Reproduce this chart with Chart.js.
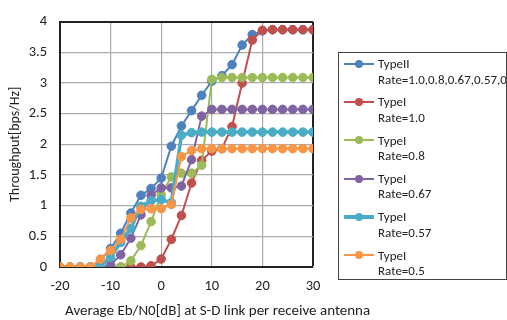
<!DOCTYPE html>
<html lang="en">
<head>
  <meta charset="UTF-8" />
  <title>Throughput vs Eb/N0</title>
  <script src="https://cdn.jsdelivr.net/npm/chart.js"></script>
  <style>
    body {
      margin: 0;
      background: #fff;
      font-family: Carlito, Lato, sans-serif;
      color: #222;
    }
    .wrap {
      position: relative;
      width: 507px;
      height: 320px;
      overflow: hidden;
    }
    #chart {
      position: absolute;
      left: 0;
      top: 0;
    }
    .xtitle {
      position: absolute;
      left: 65px;
      top: 301px;
      font-size: 15px;
      white-space: nowrap;
    }
    .legend {
      position: absolute;
      left: 338px;
      top: 52px;
      width: 169px;
      height: 228px;
      border: 1px solid #444;
      box-sizing: border-box;
      overflow: hidden;
    }
    .item {
      position: absolute;
      left: 0;
      font-size: 13px;
      line-height: 15.6px;
      white-space: nowrap;
    }
    .item .txt {
      position: absolute;
      left: 39px;
      top: 0;
    }
    .item .ln {
      position: absolute;
      left: 5px;
      width: 30px;
    }
    .item .dot {
      position: absolute;
      left: 16px;
      width: 8px;
      height: 8px;
      border-radius: 50%;
    }
  </style>
</head>
<body>
  <div class="wrap">
    <canvas id="chart" width="507" height="320"></canvas>
    <div class="xtitle">Average Eb/N0[dB] at S-D link per receive antenna</div>
    <div class="legend" id="legend"></div>
  </div>

  <script>
    // Eb/N0 in dB, one point every 2 dB
    const snr = [-20, -18, -16, -14, -12, -10, -8, -6, -4, -2, 0, 2, 4, 6, 8, 10, 12, 14, 16, 18, 20, 22, 24, 26, 28, 30];

    const typeII   = [0, 0, 0, 0, 0.12, 0.3, 0.55, 0.88, 1.17, 1.28, 1.45, 1.97, 2.3, 2.55, 2.8, 3.03, 3.12, 3.3, 3.62, 3.79, 3.85, 3.87, 3.87, 3.87, 3.87, 3.87];
    const typeI_10 = [0, 0, 0, 0, 0, 0, 0, 0, 0, 0.02, 0.13, 0.45, 0.84, 1.37, 1.74, 1.89, 1.93, 2.29, 3.0, 3.7, 3.86, 3.87, 3.87, 3.87, 3.87, 3.87];
    const typeI_08 = [0, 0, 0, 0, 0, 0, 0, 0.1, 0.35, 0.74, 1.18, 1.47, 1.53, 1.53, 1.66, 3.06, 3.09, 3.09, 3.09, 3.09, 3.09, 3.09, 3.09, 3.09, 3.09, 3.09];
    const typeI_067 = [0, 0, 0, 0, 0, 0.03, 0.2, 0.47, 0.85, 1.17, 1.29, 1.29, 1.32, 1.75, 2.46, 2.57, 2.57, 2.57, 2.57, 2.57, 2.57, 2.57, 2.57, 2.57, 2.57, 2.57];
    const typeI_057 = [0, 0, 0, 0, 0.01, 0.16, 0.4, 0.63, 0.99, 1.08, 1.1, 1.05, 2.15, 2.19, 2.2, 2.2, 2.2, 2.2, 2.2, 2.2, 2.2, 2.2, 2.2, 2.2, 2.2, 2.2];
    const typeI_05 = [0, 0, 0, 0, 0.13, 0.27, 0.45, 0.8, 0.94, 0.95, 0.95, 1.02, 1.8, 1.9, 1.93, 1.93, 1.93, 1.93, 1.93, 1.93, 1.93, 1.93, 1.93, 1.93, 1.93, 1.93];

    const seriesNames = ["TypeII", "TypeI", "TypeI", "TypeI", "TypeI", "TypeI"];
    const seriesRates = ["Rate=1.0,0.8,0.67,0.57,0.5", "Rate=1.0", "Rate=0.8", "Rate=0.67", "Rate=0.57", "Rate=0.5"];
    const seriesValues = [typeII, typeI_10, typeI_08, typeI_067, typeI_057, typeI_05];
    const seriesColors = ["#4F81BD", "#C0504D", "#9BBB59", "#8064A2", "#4BACC6", "#F79646"];
    const seriesWidths = [2, 2, 2, 2, 3.5, 2];

    const yTicks = [0, 0.5, 1, 1.5, 2, 2.5, 3, 3.5, 4];

    const datasets = seriesValues.map((vals, i) => ({
      label: seriesNames[i] + " " + seriesRates[i],
      data: snr.map((x, k) => ({ x: x, y: vals[k] })),
      borderColor: seriesColors[i],
      backgroundColor: seriesColors[i],
      pointBackgroundColor: seriesColors[i],
      pointBorderColor: seriesColors[i],
      borderWidth: seriesWidths[i],
      pointRadius: 4.3,
      pointBorderWidth: 1,
      order: seriesValues.length - i,
      tension: 0,
    }));

    const font = { family: "Carlito, Lato, sans-serif", size: 14.5 };

    new Chart(document.getElementById("chart"), {
      type: "line",
      data: { datasets: datasets },
      options: {
        responsive: false,
        animation: false,
        layout: { padding: { left: 0, right: 194, top: 13, bottom: 0 } },
        plugins: {
          legend: { display: false },
          tooltip: { enabled: false }
        },
        scales: {
          x: {
            type: "linear",
            min: -20,
            max: 30,
            afterFit: s => { s.height = 53; },
            ticks: { stepSize: 10, color: "#222", font: font, padding: 11, maxRotation: 0 },
            grid: {
              drawTicks: false,
              color: c => c.tick && c.tick.value === 30 ? "#222" : "#aaaaaa",
              lineWidth: c => c.tick && c.tick.value === 30 ? 2 : 1.2
            },
            border: { color: "#222", width: 2 }
          },
          y: {
            min: 0,
            max: 4,
            afterFit: s => { s.width = 60; },
            afterBuildTicks: s => { s.ticks = yTicks.map(v => ({ value: v })); },
            ticks: { color: "#222", font: font, padding: 13, callback: v => String(v) },
            grid: {
              drawTicks: false,
              color: c => c.tick && c.tick.value === 4 ? "#222" : "#aaaaaa",
              lineWidth: c => c.tick && c.tick.value === 4 ? 2 : 1.2
            },
            border: { color: "#222", width: 2 },
            title: {
              display: true,
              text: "Throughput[bps/Hz]",
              color: "#222",
              font: { family: font.family, size: 14 },
              padding: { top: 7, bottom: 0 }
            }
          }
        }
      }
    });

    // legend, built from the same series arrays
    const legend = document.getElementById("legend");
    seriesNames.forEach((name, i) => {
      const top = 3 + i * 38.3;
      const item = document.createElement("div");
      item.className = "item";
      item.style.top = top + "px";
      item.style.width = "200px";
      item.style.height = "34px";
      const lnH = seriesWidths[i];
      item.innerHTML =
        '<span class="ln" style="top:' + (7.8 - lnH / 2) + 'px;height:' + lnH + 'px;background:' + seriesColors[i] + '"></span>' +
        '<span class="dot" style="top:3.8px;background:' + seriesColors[i] + '"></span>' +
        '<span class="txt">' + name + '<br>' + seriesRates[i] + '</span>';
      legend.appendChild(item);
    });
  </script>
</body>
</html>
